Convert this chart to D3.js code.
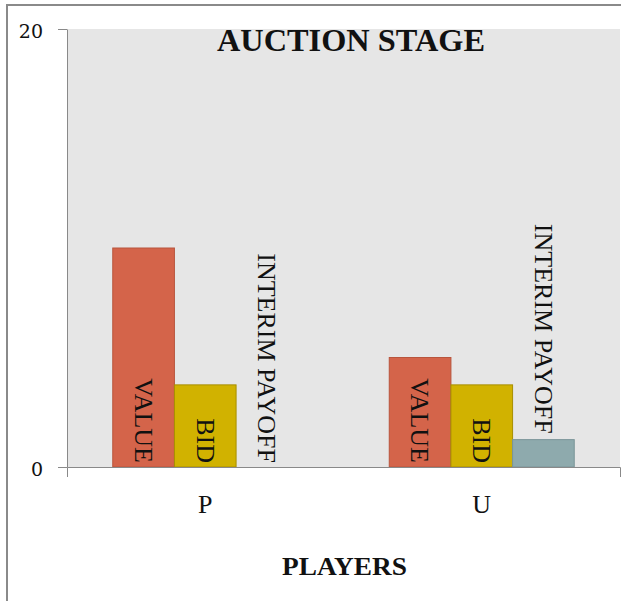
<!DOCTYPE html>
<html>
<head>
<meta charset="utf-8">
<script src="https://cdn.jsdelivr.net/npm/d3@7"></script>
<style>
  html, body { margin: 0; padding: 0; background: #ffffff; }
  svg { display: block; }
</style>
</head>
<body>
<svg id="chart" width="621" height="601"></svg>
<script>
// ---- data ----
const categories = ["P", "U"];
const seriesNames = ["VALUE", "BID", "INTERIM PAYOFF"];
const valueData = [10, 5];
const bidData = [3.75, 3.75];
const payoffData = [0, 1.25];
const yTicks = [0, 20];
const seriesColors = ["#d4644a", "#d1b200", "#8eaaad"];
const seriesStrokes = ["#b8553d", "#a88f00", "#7a9598"];

const seriesValues = [valueData, bidData, payoffData];

// ---- layout ----
const svg = d3.select("#chart");
const plot = { left: 67, right: 620, top: 29, bottom: 467 };

// outer frame
svg.append("rect")
  .attr("x", 7).attr("y", 5)
  .attr("width", 700).attr("height", 700)
  .attr("fill", "#ffffff")
  .attr("stroke", "#8a8a8a")
  .attr("stroke-width", 2);

// plot background
svg.append("rect")
  .attr("x", plot.left).attr("y", plot.top)
  .attr("width", plot.right - plot.left)
  .attr("height", plot.bottom - plot.top)
  .attr("fill", "#e6e6e6");

const x = d3.scaleBand()
  .domain(categories)
  .range([plot.left, plot.right])
  .paddingInner(0.331)
  .paddingOuter(0.1655);

const xs = d3.scaleBand()
  .domain(seriesNames)
  .range([0, x.bandwidth()]);

const y = d3.scaleLinear()
  .domain([0, 20])
  .range([plot.bottom, plot.top]);

// ---- bars ----
const rows = [];
categories.forEach((c, ci) => {
  seriesNames.forEach((s, si) => {
    rows.push({ cat: c, series: s, si: si, value: seriesValues[si][ci] });
  });
});

svg.append("g").selectAll("rect")
  .data(rows.filter(d => d.value > 0))
  .join("rect")
  .attr("x", d => x(d.cat) + xs(d.series))
  .attr("y", d => y(d.value))
  .attr("width", xs.bandwidth())
  .attr("height", d => y(0) - y(d.value))
  .attr("fill", d => seriesColors[d.si])
  .attr("stroke", d => seriesStrokes[d.si])
  .attr("stroke-width", 1);

// ---- axes ----
const axisColor = "#898989";

const yAxis = svg.append("g")
  .attr("transform", `translate(${plot.left},0)`)
  .call(d3.axisLeft(y).tickValues(yTicks).tickSize(9).tickSizeOuter(0).tickPadding(15).tickFormat(d3.format("d")));
yAxis.select(".domain").attr("stroke", axisColor);
yAxis.selectAll(".tick line").attr("stroke", axisColor);
yAxis.selectAll(".tick text")
  .attr("fill", "#111")
  .attr("dy", "0.45em")
  .style("font-family", "'DejaVu Serif', serif")
  .style("font-size", "19px");

const xAxis = svg.append("g")
  .attr("transform", `translate(0,${plot.bottom})`)
  .call(d3.axisBottom(x).tickSizeInner(0).tickSizeOuter(10));
xAxis.select(".domain").attr("stroke", axisColor);
xAxis.selectAll(".tick line").remove();
xAxis.selectAll(".tick text")
  .attr("y", 46).attr("dy", 0)
  .attr("fill", "#111")
  .style("font-family", "'Liberation Serif', 'Times New Roman', serif")
  .style("font-size", "26px");

// ---- bar labels (rotated) ----
const labelSize = 26;
svg.append("g").selectAll("text")
  .data(rows)
  .join("text")
  .attr("transform", d => {
    const cx = x(d.cat) + xs(d.series) + xs.bandwidth() / 2;
    const h = y(0) - y(d.value);
    const labelLen = d.series.length * labelSize * 0.6;
    let yEnd;
    if (d.value === 0 || h >= labelLen) yEnd = y(0) - 4;
    else yEnd = y(d.value) - 6;
    return `translate(${cx},${yEnd}) rotate(90)`;
  })
  .attr("text-anchor", "end")
  .attr("dy", "0.33em")
  .attr("fill", "#111")
  .style("font-family", "'Liberation Serif', 'Times New Roman', serif")
  .style("font-size", labelSize + "px")
  .text(d => d.series);

// ---- titles ----
svg.append("text")
  .attr("x", 351).attr("y", 51)
  .attr("text-anchor", "middle")
  .attr("textLength", 268)
  .attr("lengthAdjust", "spacingAndGlyphs")
  .attr("fill", "#111")
  .style("font-family", "'Liberation Serif', 'Times New Roman', serif")
  .style("font-weight", "bold")
  .style("font-size", "31px")
  .text("AUCTION STAGE");

svg.append("text")
  .attr("x", 344.5).attr("y", 575)
  .attr("text-anchor", "middle")
  .attr("textLength", 125)
  .attr("lengthAdjust", "spacingAndGlyphs")
  .attr("fill", "#111")
  .style("font-family", "'Liberation Serif', 'Times New Roman', serif")
  .style("font-weight", "bold")
  .style("font-size", "25px")
  .text("PLAYERS");
</script>
</body>
</html>
